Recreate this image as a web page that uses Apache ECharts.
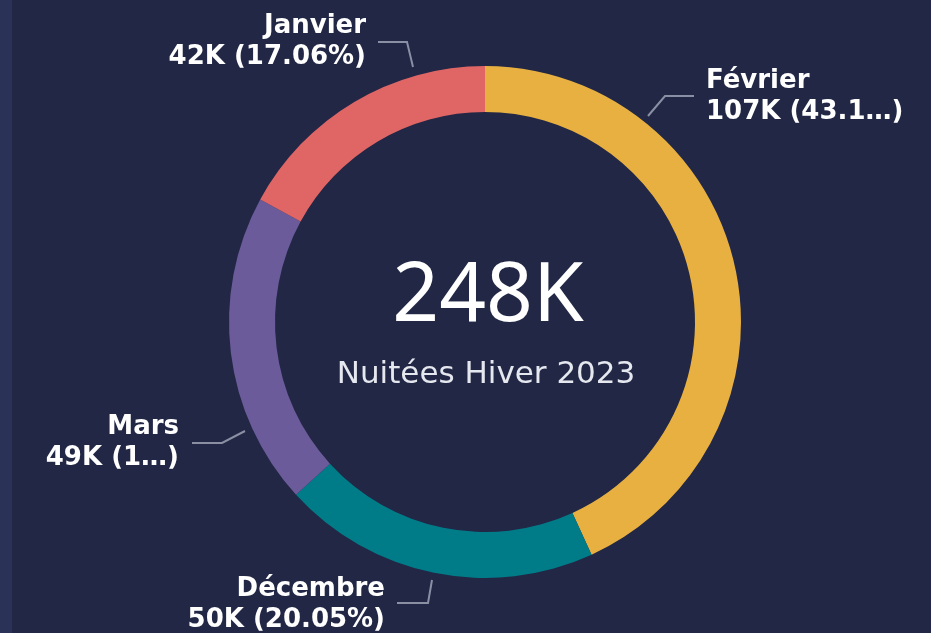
<!DOCTYPE html>
<html>
<head>
<meta charset="utf-8">
<script src="https://cdn.jsdelivr.net/npm/echarts@6/dist/echarts.min.js"></script>
<style>
  html, body { margin: 0; padding: 0; background: #212745; }
  #chart { width: 931px; height: 633px; }
</style>
</head>
<body>
<div id="chart"></div>
<script>
// ---- data ----
const categories = ['Février', 'Décembre', 'Mars', 'Janvier'];
const values = [107050, 49725, 48915, 42310];
const centerValue = '248K';
const centerLabel = 'Nuitées Hiver 2023';
// number of percent characters kept before the ellipsis (truncated labels)
const pctTruncate = { 'Février': 4, 'Mars': 1 };

// ---- styles ----
const colors = ['#E8B040', '#007C89', '#6C5B9B', '#E06666'];
const labelLayouts = [
  { x: 706, y: 97,  align: 'left',  line: [[648, 116], [665, 96], [694, 96]] },
  { x: 385, y: 605, align: 'right', line: [[432, 580], [428, 603], [397, 603]] },
  { x: 179, y: 443, align: 'right', line: [[245, 431], [222, 443], [192, 443]] },
  { x: 366, y: 42,  align: 'right', line: [[413, 67], [407, 42], [378, 42]] }
];

const chart = echarts.init(document.getElementById('chart'), null, { renderer: 'canvas' });

function fmtLabel(p) {
  const k = Math.round(p.value / 1000) + 'K';
  let pct = p.percent.toFixed(2);
  const t = pctTruncate[p.name];
  pct = t ? pct.slice(0, t) + '…' : pct + '%';
  return p.name + '\n' + k + ' (' + pct + ')';
}

chart.setOption({
  backgroundColor: '#212745',
  animation: false,
  graphic: [
    { type: 'rect', left: 0, top: 0, shape: { width: 12, height: 633 }, style: { fill: '#2B3258' } },
    { type: 'text', x: 488, y: 298, style: { text: centerValue, fill: '#ffffff', font: '82px "Noto Sans"', textAlign: 'center', textVerticalAlign: 'middle' } },
    { type: 'text', x: 486, y: 375, style: { text: centerLabel, fill: '#e6e8ef', font: '31px "DejaVu Sans"', textAlign: 'center', textVerticalAlign: 'middle' } }
  ],
  series: [{
    type: 'pie',
    center: [485, 322],
    radius: [210, 256],
    startAngle: 90,
    clockwise: true,
    avoidLabelOverlap: false,
    data: categories.map((c, i) => ({ name: c, value: values[i], itemStyle: { color: colors[i] } })),
    label: {
      show: true,
      position: 'outside',
      formatter: fmtLabel,
      color: '#ffffff',
      fontFamily: 'DejaVu Sans',
      fontWeight: 'bold',
      fontSize: 26,
      lineHeight: 31
    },
    labelLine: { show: true, lineStyle: { color: '#8A8FA3', width: 2 } },
    labelLayout: function (params) {
      const L = labelLayouts[params.dataIndex];
      return {
        x: L.x, y: L.y, align: L.align, verticalAlign: 'middle',
        labelLinePoints: L.line
      };
    },
    emphasis: { disabled: true }
  }]
});
</script>
</body>
</html>
